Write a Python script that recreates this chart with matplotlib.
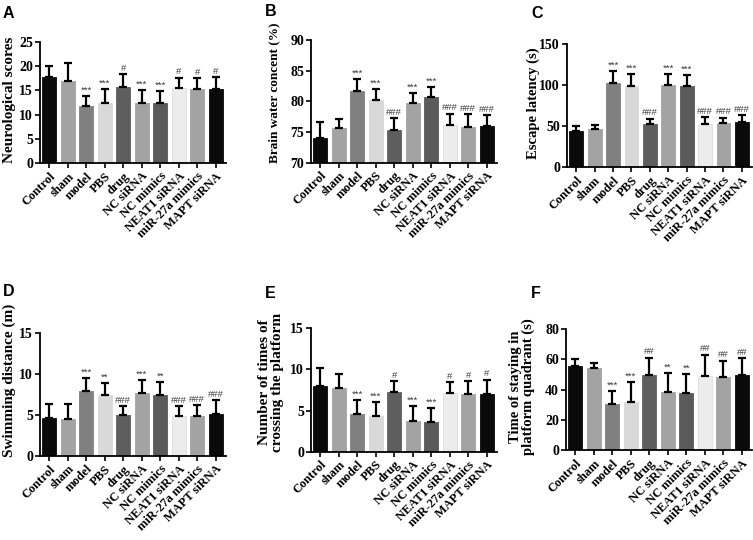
import numpy as np
import matplotlib
matplotlib.use("Agg")
import matplotlib.pyplot as plt

groups = ["Control", "sham", "model", "PBS", "drug", "NC siRNA", "NC mimics",
          "NEAT1 siRNA", "miR-27a mimics", "MAPT siRNA"]
bar_colors = ["#0a0a0a", "#a3a3a3", "#808080", "#d9d9d9", "#5e5e5e",
              "#a3a3a3", "#5a5a5a", "#ececec", "#a3a3a3", "#0a0a0a"]

# means and upper error bar tops
neuro_mean = [17.7, 17.0, 11.7, 12.3, 15.6, 12.4, 12.3, 15.4, 15.2, 15.3]
neuro_top = [20.0, 20.6, 13.8, 15.2, 18.3, 15.1, 14.9, 17.6, 17.5, 17.7]
neuro_sig = ["", "", "***", "***", "#", "***", "***", "#", "#", "#"]

water_mean = [74.1, 75.7, 81.7, 80.2, 75.4, 79.7, 80.7, 76.1, 75.9, 76.0]
water_top = [76.6, 77.2, 83.6, 82.0, 77.3, 81.4, 82.4, 78.0, 77.9, 77.8]
water_sig = ["", "", "***", "***", "###", "***", "***", "###", "###", "###"]

escape_mean = [44.1, 46.2, 102.4, 99.2, 53.0, 100.8, 99.6, 52.2, 53.8, 55.5]
escape_top = [50.6, 51.4, 117.8, 113.8, 59.5, 113.4, 112.6, 61.5, 60.7, 63.2]
escape_sig = ["", "", "***", "***", "###", "***", "***", "###", "###", "###"]

swim_mean = [4.65, 4.5, 8.0, 7.4, 5.0, 7.7, 7.5, 4.86, 4.94, 5.1]
swim_top = [6.37, 6.33, 9.5, 8.94, 6.12, 9.3, 9.02, 6.12, 6.2, 6.8]
swim_sig = ["", "", "***", "**", "###", "***", "**", "###", "###", "###"]

cross_mean = [7.98, 7.77, 4.6, 4.4, 7.2, 3.7, 3.6, 7.17, 6.97, 7.05]
cross_top = [10.16, 9.43, 6.3, 6.0, 8.6, 5.5, 5.3, 8.5, 8.6, 8.75]
cross_sig = ["", "", "***", "***", "#", "***", "***", "#", "#", "#"]

stay_mean = [55.8, 54.1, 30.8, 32.1, 49.7, 38.5, 37.8, 49.0, 48.1, 49.5]
stay_top = [60.2, 57.8, 38.9, 45.1, 61.1, 50.8, 50.3, 63.1, 59.1, 60.7]
stay_sig = ["", "", "***", "***", "##", "**", "**", "##", "##", "##"]

W, H = 753, 540
fig = plt.figure(figsize=(W / 100, H / 100), dpi=100)

serif = "Liberation Serif"
sans = "Liberation Sans"


def px_axes(left, top, right, bottom):
    return fig.add_axes([left / W, 1 - bottom / H, (right - left) / W, (bottom - top) / H])


def panel(rect, mean, top, sig, ylim, yticks, ylabel, letter, letter_xy, label_xy, label_size=11):
    ax = px_axes(*rect)
    x = np.arange(len(groups))
    mean = np.array(mean)
    err = np.array(top) - mean
    ax.bar(x, mean - ylim[0], bottom=ylim[0], width=0.75, color=bar_colors,
           edgecolor=[c if c != "#ececec" else "#dddddd" for c in bar_colors],
           linewidth=0.6, zorder=2)
    ax.errorbar(x, mean, yerr=[np.zeros_like(err), err], fmt="none",
                ecolor="black", elinewidth=1.6, capsize=3.2, capthick=1.6, zorder=3)
    span = ylim[1] - ylim[0]
    for xi, t, s in zip(x, top, sig):
        if s:
            ax.text(xi, t + span * 0.01, s, ha="center", va="bottom",
                    fontsize=6.8, color="#3c3c3c", family=sans)
    ax.set_xlim(-0.5, 9.55)
    ax.set_ylim(*ylim)
    ax.set_yticks(yticks)
    ax.set_xticks(x)
    ax.set_xticklabels(groups, rotation=45, ha="right", rotation_mode="anchor",
                       fontsize=9, fontweight="bold", family=serif)
    for lab in ax.get_yticklabels():
        lab.set_fontsize(10)
        lab.set_fontweight("bold")
        lab.set_family(serif)
    ax.spines["top"].set_visible(False)
    ax.spines["right"].set_visible(False)
    for s in ("left", "bottom"):
        ax.spines[s].set_linewidth(1.3)
    ax.tick_params(axis="both", width=1.2, length=3.5, pad=1.5)
    ax.set_ylabel(ylabel, fontsize=label_size, fontweight="bold", family=serif,
                  linespacing=1.0)
    # label position given in pixels: right edge of the rotated text, vertical centre
    ax.yaxis.set_label_coords((label_xy[0] - rect[0]) / (rect[2] - rect[0]),
                              (rect[3] - label_xy[1]) / (rect[3] - rect[1]))
    fig.text(letter_xy[0] / W, 1 - letter_xy[1] / H, letter, fontsize=11.5,
             fontweight="bold", family=sans, ha="left", va="top")
    return ax


panel((40, 41.7, 226, 163.3), neuro_mean, neuro_top, neuro_sig, (0, 25),
      np.arange(0, 26, 5), "Neurological scores", "A", (3, 6), (16, 100))
panel((311, 40, 497, 162.7), water_mean, water_top, water_sig, (70, 90),
      np.arange(70, 91, 5), "Brain water concent (%)", "B", (265, 4), (280, 93), 9.5)
panel((567, 44.3, 752, 167.3), escape_mean, escape_top, escape_sig, (0, 150),
      np.arange(0, 151, 50), "Escape latency (s)", "C", (531, 6), (540, 103), 10.5)
panel((40, 333.3, 226, 456), swim_mean, swim_top, swim_sig, (0, 15),
      np.arange(0, 16, 5), "Swimming distance (m)", "D", (3, 284), (16, 380))
panel((311, 328.3, 497, 451.7), cross_mean, cross_top, cross_sig, (0, 15),
      np.arange(0, 16, 5), "Number of times of\ncrossing the platform", "E", (265, 286), (284, 382))
panel((566, 329, 752, 450.3), stay_mean, stay_top, stay_sig, (0, 80),
      np.arange(0, 81, 20), "Time of staying in\nplatform quadrant (s)", "F", (531, 286), (535, 387), 10.5)

fig.savefig("out.png", dpi=100)
